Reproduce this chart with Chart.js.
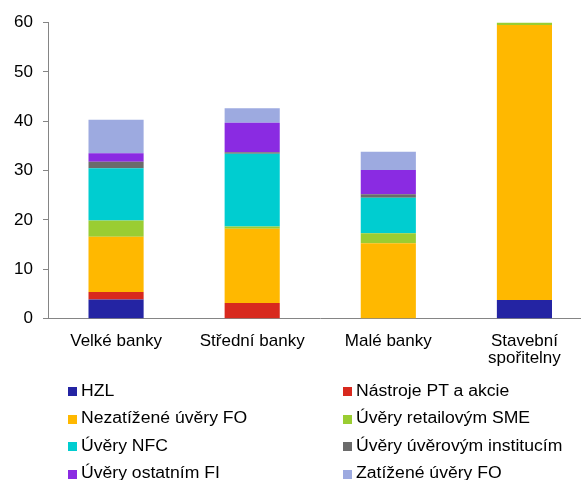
<!DOCTYPE html>
<html>
<head>
<meta charset="utf-8">
<script src="https://cdn.jsdelivr.net/npm/chart.js@4/dist/chart.umd.min.js"></script>
<style>
  html, body { margin: 0; padding: 0; background: #fff; overflow: hidden; width: 581px; height: 480px; }
  #wrap { position: absolute; left: 0; top: 0; width: 600px; height: 380px; }
  #legend { position: absolute; left: 0; top: 0; width: 581px; height: 480px; pointer-events: none; }
  .lg-box { position: absolute; width: 9px; height: 9px; }
  .lg-text { position: absolute; font-family: "Liberation Sans", Arial, sans-serif; font-size: 16px; line-height: 18px;
             color: #000; white-space: nowrap; transform: scaleX(1.1); transform-origin: 0 50%; }
</style>
</head>
<body>
<div id="wrap"><canvas id="c"></canvas></div>
<div id="legend"></div>
<script>
// Categories (bank groups)
const categories = ['Velké banky', 'Střední banky', 'Malé banky', ['Stavební', 'spořitelny']];

// Series values, stacked bottom to top
const hzl        = [3.9, 0,    0,    3.8];
const nastroje   = [1.5, 3.2,  0,    0];
const nezatizene = [11.2, 15.0, 15.3, 55.7];
const sme        = [3.3, 0.5,  2.0,  0.5];
const nfc        = [10.6, 14.7, 7.2, 0];
const instituce  = [1.3, 0.3,  0.7,  0];
const ostatniFI  = [1.7, 6.0,  4.9,  0];
const zatizene   = [6.8, 2.95, 3.7,  0];

// Series names
const seriesNames = ['HZL', 'Nástroje PT a akcie', 'Nezatížené úvěry FO', 'Úvěry retailovým SME',
                     'Úvěry NFC', 'Úvěry úvěrovým institucím', 'Úvěry ostatním FI', 'Zatížené úvěry FO'];

// Y axis ticks
const yTicks = [0, 10, 20, 30, 40, 50, 60];

const seriesValues = [hzl, nastroje, nezatizene, sme, nfc, instituce, ostatniFI, zatizene];
const seriesColors = ['#2424A3', '#D8291E', '#FFB800', '#9ACD32', '#00CDD0', '#6B6B6B', '#8A2BE2', '#9DAAE0'];

const FONT = { family: '"Liberation Sans", Arial, sans-serif', size: 17, lineHeight: 1 };
const AXIS = '#858585';

const canvas = document.getElementById('c');
canvas.width = 600; canvas.height = 380;

const chart = new Chart(canvas, {
  type: 'bar',
  data: {
    labels: categories,
    datasets: seriesNames.map((name, i) => ({
      label: name,
      data: seriesValues[i],
      backgroundColor: seriesColors[i],
      borderWidth: 0,
      barPercentage: 0.405,
      categoryPercentage: 1.0
    }))
  },
  options: {
    responsive: false,
    animation: false,
    devicePixelRatio: 1,
    layout: { padding: { top: 22.5, right: 7.5, left: 0, bottom: 0 } },
    plugins: { legend: { display: false }, tooltip: { enabled: false } },
    scales: {
      x: {
        stacked: true,
        grid: { display: false, drawTicks: false },
        border: { display: true, color: AXIS, width: 1 },
        ticks: { color: '#000', font: FONT, padding: 14, maxRotation: 0, autoSkip: false },
        afterFit: s => { s.height = 380 - 318.7; }
      },
      y: {
        stacked: true,
        min: 0, max: 60,
        afterBuildTicks: s => { s.ticks = yTicks.map(v => ({ value: v })); },
        grid: { drawOnChartArea: false, drawTicks: true, tickLength: 5, color: AXIS },
        border: { display: true, color: AXIS, width: 1 },
        ticks: { color: '#000', font: FONT, padding: 10 },
        afterFit: s => { s.width = 48; }
      }
    }
  }
});

// Legend in two columns, built from the chart's datasets
const legend = document.getElementById('legend');
const colX = [68, 342.5];
const rowY = [391.5, 419, 446.5, 474];
chart.data.datasets.forEach((ds, i) => {
  const col = i % 2, row = Math.floor(i / 2);
  const box = document.createElement('div');
  box.className = 'lg-box';
  box.style.left = colX[col] + 'px';
  box.style.top = (rowY[row] - 4.5) + 'px';
  box.style.background = ds.backgroundColor;
  legend.appendChild(box);
  const t = document.createElement('div');
  t.className = 'lg-text';
  t.textContent = ds.label;
  t.style.left = (colX[col] + 13) + 'px';
  t.style.top = (rowY[row] - 9.75) + 'px';
  legend.appendChild(t);
});
</script>
</body>
</html>
